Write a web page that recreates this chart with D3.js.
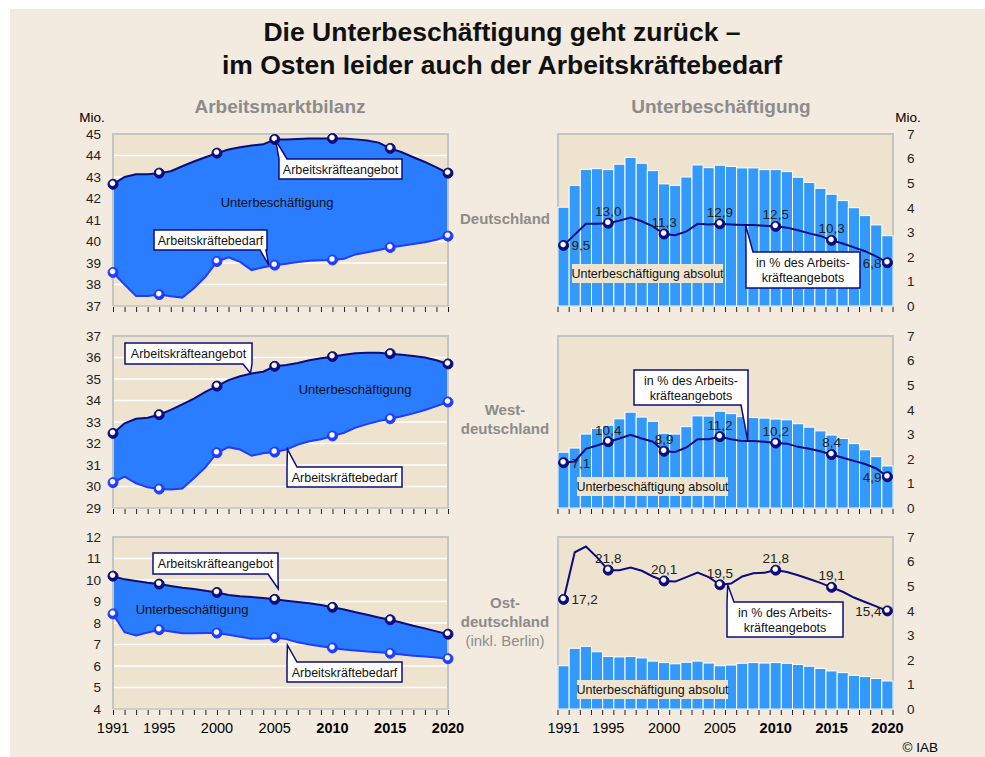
<!DOCTYPE html>
<html>
<head>
<meta charset="utf-8">
<script src="https://cdn.jsdelivr.net/npm/d3@7"></script>
<style>
body { margin: 0; background: #fff; }
svg { display: block; font-family: "Liberation Sans", Arial, sans-serif; }
</style>
</head>
<body>
<svg id="chart" width="985" height="757"></svg>
<script>
// ---- data (Mio. / %) ----
var years = d3.range(1991, 2021);
var markYears = [1991, 1995, 2000, 2005, 2010, 2015, 2020];
var boldYears = [2010, 2015, 2020];
var regionNames = [["Deutschland"], ["West-", "deutschland"], ["Ost-", "deutschland", "(inkl. Berlin)"]];

var angebotD = [42.66, 43.0, 43.13, 43.13, 43.18, 43.27, 43.5, 43.72, 43.92, 44.11, 44.28, 44.38, 44.47, 44.52, 44.75,
    44.75, 44.77, 44.79, 44.79, 44.79, 44.79, 44.75, 44.7, 44.6, 44.33, 44.15, 43.92, 43.7, 43.45, 43.18];
var bedarfD = [38.56, 38.0, 37.47, 37.46, 37.53, 37.45, 37.39, 37.83, 38.36, 39.07, 39.26, 39.05, 38.67, 38.8, 38.9,
    38.97, 39.05, 39.1, 39.13, 39.14, 39.2, 39.4, 39.5, 39.6, 39.72, 39.8, 39.88, 39.97, 40.08, 40.25];
var angebotW = [32.47, 32.94, 33.15, 33.2, 33.34, 33.56, 33.82, 34.09, 34.4, 34.67, 34.95, 35.13, 35.26, 35.34, 35.59,
    35.65, 35.74, 35.87, 35.97, 36.04, 36.13, 36.2, 36.22, 36.22, 36.18, 36.13, 36.07, 36.0, 35.87, 35.7];
var bedarfW = [30.18, 30.46, 30.15, 29.96, 29.88, 29.86, 29.91, 30.38, 30.89, 31.57, 31.83, 31.72, 31.43, 31.55, 31.6,
    31.72, 31.95, 32.1, 32.2, 32.35, 32.5, 32.74, 32.9, 33.04, 33.15, 33.27, 33.4, 33.56, 33.74, 33.93];
var angebotO = [10.18, 10.03, 9.95, 9.87, 9.81, 9.72, 9.64, 9.58, 9.5, 9.42, 9.3, 9.24, 9.21, 9.16, 9.1,
    9.04, 8.98, 8.92, 8.84, 8.73, 8.63, 8.5, 8.38, 8.26, 8.15, 8.01, 7.87, 7.75, 7.61, 7.48];
var bedarfO = [8.42, 7.57, 7.42, 7.56, 7.69, 7.6, 7.52, 7.52, 7.53, 7.53, 7.45, 7.36, 7.27, 7.28, 7.33,
    7.25, 7.1, 7.0, 6.92, 6.84, 6.77, 6.72, 6.67, 6.64, 6.59, 6.53, 6.48, 6.44, 6.39, 6.34];

var absolutD = [4.02, 4.91, 5.56, 5.59, 5.55, 5.77, 6.05, 5.81, 5.51, 4.97, 4.91, 5.25, 5.74, 5.63, 5.73,
    5.68, 5.62, 5.62, 5.55, 5.55, 5.47, 5.24, 5.03, 4.79, 4.55, 4.29, 4.0, 3.68, 3.3, 2.86];
var absolutW = [2.27, 2.44, 3.01, 3.24, 3.37, 3.63, 3.9, 3.7, 3.53, 3.04, 3.01, 3.31, 3.75, 3.74, 3.94,
    3.84, 3.72, 3.68, 3.66, 3.62, 3.59, 3.43, 3.29, 3.14, 2.97, 2.83, 2.62, 2.37, 2.09, 1.71];
var absolutO = [1.76, 2.47, 2.55, 2.33, 2.14, 2.12, 2.14, 2.08, 1.95, 1.89, 1.84, 1.9, 1.95, 1.87, 1.76,
    1.79, 1.86, 1.89, 1.87, 1.89, 1.86, 1.81, 1.74, 1.65, 1.55, 1.48, 1.37, 1.32, 1.24, 1.14];

var quoteD = [9.5, 11.2, 12.9, 12.9, 13.0, 13.4, 13.9, 13.3, 12.5, 11.3, 11.1, 11.7, 12.9, 12.8, 12.9,
    12.8, 12.7, 12.7, 12.6, 12.5, 12.3, 11.9, 11.4, 11.0, 10.3, 9.8, 9.2, 8.6, 7.8, 6.8];
var quoteW = [7.1, 7.3, 9.3, 9.8, 10.4, 10.9, 11.5, 10.9, 10.4, 8.9, 8.8, 9.5, 10.8, 10.8, 11.2,
    10.8, 10.5, 10.5, 10.4, 10.2, 10.1, 9.6, 9.3, 8.9, 8.4, 7.9, 7.4, 6.9, 6.2, 4.9];
var quoteO = [17.2, 24.6, 25.5, 23.8, 21.8, 21.8, 22.2, 21.7, 20.8, 20.1, 20.0, 20.7, 21.4, 20.7, 19.5,
    19.7, 20.8, 21.3, 21.4, 21.8, 21.5, 21.0, 20.4, 19.8, 19.1, 18.4, 17.5, 16.8, 16.1, 15.4];

var leftDomains = [[37, 45], [29, 37], [4, 12]];
var rightDomain = [0, 7];
var quoteDomain = [0, 27];   // hidden secondary axis for the % line

// ---- layout ----
var svg = d3.select("#chart");
var rowTop = [134, 336, 537], rowH = 172;
var L = { x0: 113, x1: 448 }, R = { x0: 558, x1: 893 };

var navy = "#0c0c7c", blue = "#1f3cff", areaFill = "#2a7dff", barFill = "#3399fb";
var plotBg = "#ede3cf", grey = "#8c8c8c", frame = "#c4c4c4";

svg.append("rect").attr("x", 10).attr("y", 9).attr("width", 975).attr("height", 748).attr("fill", "#f3ebdf");

// marker gradients (little 3D balls)
var defs = svg.append("defs");
[["ballNavy", navy], ["ballBlue", blue]].forEach(function (b) {
    var g = defs.append("radialGradient").attr("id", b[0]).attr("cx", "45%").attr("cy", "40%").attr("r", "55%");
    g.append("stop").attr("offset", "0%").attr("stop-color", "#fff");
    g.append("stop").attr("offset", "38%").attr("stop-color", "#fff");
    g.append("stop").attr("offset", "60%").attr("stop-color", b[1]);
    g.append("stop").attr("offset", "100%").attr("stop-color", b[1]);
});

// titles
svg.append("text").attr("x", 502).attr("y", 41).attr("text-anchor", "middle")
    .attr("font-size", 26.5).attr("font-weight", "bold").attr("fill", "#111")
    .text("Die Unterbeschäftigung geht zurück –");
svg.append("text").attr("x", 502).attr("y", 74).attr("text-anchor", "middle")
    .attr("font-size", 26.5).attr("font-weight", "bold").attr("fill", "#111")
    .text("im Osten leider auch der Arbeitskräftebedarf");
svg.append("text").attr("x", 280).attr("y", 113).attr("text-anchor", "middle")
    .attr("font-size", 19).attr("font-weight", "bold").attr("fill", grey).text("Arbeitsmarktbilanz");
svg.append("text").attr("x", 721).attr("y", 113).attr("text-anchor", "middle")
    .attr("font-size", 19).attr("font-weight", "bold").attr("fill", grey).text("Unterbeschäftigung");
svg.append("text").attr("x", 92).attr("y", 122).attr("text-anchor", "middle").attr("font-size", 13.5).text("Mio.");
svg.append("text").attr("x", 908).attr("y", 122).attr("text-anchor", "middle").attr("font-size", 13.5).text("Mio.");
svg.append("text").attr("x", 938).attr("y", 752).attr("text-anchor", "end").attr("font-size", 13.5).text("© IAB");

// callout box with a wedge pointing at tip
function callout(g, bx, by, bw, bh, edge, a, b, tip, lines) {
    var p;
    if (edge == "top") {
        p = "M" + bx + "," + by + "L" + a + "," + by + "L" + tip[0] + "," + tip[1] + "L" + b + "," + by +
            "L" + (bx + bw) + "," + by + "L" + (bx + bw) + "," + (by + bh) + "L" + bx + "," + (by + bh) + "Z";
    } else {
        p = "M" + bx + "," + by + "L" + (bx + bw) + "," + by + "L" + (bx + bw) + "," + (by + bh) +
            "L" + b + "," + (by + bh) + "L" + tip[0] + "," + tip[1] + "L" + a + "," + (by + bh) +
            "L" + bx + "," + (by + bh) + "Z";
    }
    g.append("path").attr("d", p).attr("fill", "#fff").attr("stroke", navy).attr("stroke-width", 1.5);
    var t = g.append("text").attr("text-anchor", "middle").attr("font-size", 12.5).attr("fill", "#111");
    lines.forEach(function (s, i) {
        t.append("tspan").attr("x", bx + bw / 2)
            .attr("y", by + bh / 2 + 4.5 + (i - (lines.length - 1) / 2) * 15).text(s);
    });
}

var leftSeries = [[angebotD, bedarfD], [angebotW, bedarfW], [angebotO, bedarfO]];
var rightSeries = [[absolutD, quoteD], [absolutW, quoteW], [absolutO, quoteO]];
var areaLabelPos = [[277, 207], [355, 394], [192, 614]];
var absolutBox = [[572, 264], [577, 477], [577, 680]];

var x = d3.scaleLinear().domain([1991, 2020]).range([L.x0, L.x1]);
var xb = d3.scaleBand().domain(years).range([R.x0, R.x1]).padding(0);

rowTop.forEach(function (top, r) {
    var bottom = top + rowH;
    var y = d3.scaleLinear().domain(leftDomains[r]).range([bottom, top]);
    var sup = leftSeries[r][0], dem = leftSeries[r][1];
    var g = svg.append("g");

    // --- left: Arbeitsmarktbilanz ---
    g.append("rect").attr("x", L.x0).attr("y", top).attr("width", L.x1 - L.x0).attr("height", rowH).attr("fill", plotBg);
    g.selectAll(".grid").data(y.ticks(8).slice(1, -1)).join("line")
        .attr("x1", L.x0).attr("x2", L.x1).attr("y1", y).attr("y2", y)
        .attr("stroke", "#fff").attr("stroke-width", 1.5);

    var area = d3.area().x(function (d, i) { return x(years[i]); })
        .y0(function (d, i) { return y(dem[i]); }).y1(function (d, i) { return y(sup[i]); });
    g.append("path").attr("d", area(sup)).attr("fill", areaFill);
    var line = d3.line().x(function (d, i) { return x(years[i]); }).y(function (d) { return y(d); });
    g.append("path").attr("d", line(sup)).attr("fill", "none").attr("stroke", navy).attr("stroke-width", 2);
    g.append("path").attr("d", line(dem)).attr("fill", "none").attr("stroke", blue).attr("stroke-width", 2);

    // frame
    g.append("path").attr("d", "M" + L.x0 + "," + bottom + "V" + top + "H" + L.x1 + "V" + bottom)
        .attr("fill", "none").attr("stroke", frame).attr("stroke-width", 2);
    g.append("line").attr("x1", L.x0).attr("x2", L.x1).attr("y1", bottom).attr("y2", bottom)
        .attr("stroke", frame).attr("stroke-width", 1.5);

    var yAxis = d3.axisLeft(y).ticks(8).tickSize(0).tickPadding(12).tickFormat(d3.format("d"));
    g.append("g").attr("transform", "translate(" + L.x0 + ",0)").call(yAxis)
        .call(function (a) { a.select(".domain").remove(); })
        .selectAll("text").attr("font-size", 13.5).attr("fill", "#222").attr("font-family", null);

    var xAxis = d3.axisBottom(x).tickValues(years).tickSize(5).tickFormat("");
    var ax = g.append("g").attr("transform", "translate(0," + (bottom + 1) + ")").call(xAxis);
    ax.select(".domain").remove();
    ax.selectAll("line").attr("stroke", "#222");

    // markers
    [[sup, "ballNavy", navy], [dem, "ballBlue", blue]].forEach(function (s) {
        g.selectAll(null).data(markYears).join("circle")
            .attr("cx", function (d) { return x(d); })
            .attr("cy", function (d) { return y(s[0][years.indexOf(d)]); })
            .attr("r", 5).attr("fill", "url(#" + s[1] + ")").attr("stroke", s[2]).attr("stroke-width", 1);
    });

    g.append("text").attr("x", areaLabelPos[r][0]).attr("y", areaLabelPos[r][1]).attr("text-anchor", "middle")
        .attr("font-size", 13).attr("fill", "#111").text("Unterbeschäftigung");

    // callouts on the left
    function at(arr, yr) { return [x(yr), y(arr[years.indexOf(yr)])]; }
    if (r == 0) {
        var t1 = at(sup, 2005); t1 = [t1[0] + 1, t1[1] + 1];
        callout(g, 279, 159, 123, 20, "top", 279, 287, t1, ["Arbeitskräfteangebot"]);
        var t2 = at(dem, 2005); t2 = [t2[0] - 6, t2[1]];
        callout(g, 154, 230, 113, 20, "bottom", 260, 266, t2, ["Arbeitskräftebedarf"]);
    } else if (r == 1) {
        var t3 = [x(2002.9), y(35.27)];
        callout(g, 125, 343, 127, 21, "bottom", 243, 252, t3, ["Arbeitskräfteangebot"]);
        var t4 = [x(2006.1), y(31.74)];
        callout(g, 287, 467, 115, 20, "top", 287, 297, t4, ["Arbeitskräftebedarf"]);
    } else {
        var t5 = [x(2005.3), y(9.08) - 11];
        callout(g, 153, 553, 125, 21, "bottom", 268, 278, t5, ["Arbeitskräfteangebot"]);
        var t6 = [x(2006.1), y(7.25) + 6];
        callout(g, 287, 662, 115, 20, "top", 287, 297, t6, ["Arbeitskräftebedarf"]);
    }

    // region label in the middle
    var names = regionNames[r];
    var midY = [219, 410, 603][r];
    names.forEach(function (n, i) {
        g.append("text").attr("x", 505).attr("y", midY + 5 + i * 19).attr("text-anchor", "middle")
            .attr("font-size", 15).attr("font-weight", i == 2 ? "normal" : "bold").attr("fill", grey).text(n);
    });

    // --- right: Unterbeschäftigung ---
    var yr = d3.scaleLinear().domain(rightDomain).range([bottom, top]);
    var yq = d3.scaleLinear().domain(quoteDomain).range([bottom, top]);
    var abs = rightSeries[r][0], quote = rightSeries[r][1];
    g.append("rect").attr("x", R.x0).attr("y", top).attr("width", R.x1 - R.x0).attr("height", rowH)
        .attr("fill", plotBg).attr("stroke", frame).attr("stroke-width", 2);
    g.selectAll(".bar").data(abs).join("rect")
        .attr("x", function (d, i) { return xb(years[i]); })
        .attr("y", function (d) { return yr(d); })
        .attr("width", xb.bandwidth())
        .attr("height", function (d) { return bottom - yr(d); })
        .attr("fill", barFill).attr("stroke", "#fff").attr("stroke-width", 1);

    var ab = absolutBox[r];
    g.append("rect").attr("x", ab[0]).attr("y", ab[1]).attr("width", 151).attr("height", 19).attr("fill", plotBg);
    g.append("text").attr("x", ab[0] + 75.5).attr("y", ab[1] + 14).attr("text-anchor", "middle")
        .attr("font-size", 12.5).attr("fill", "#111").text("Unterbeschäftigung absolut");

    var cx = function (yrv) { return xb(yrv) + xb.bandwidth() / 2; };
    var qline = d3.line().x(function (d, i) { return cx(years[i]); }).y(function (d) { return yq(d); });
    g.append("path").attr("d", qline(quote)).attr("fill", "none").attr("stroke", navy).attr("stroke-width", 2);

    // callout for % line
    var qt = function (yrv, v) { return [xb(1991) + (yrv - 1991 + 0.5) * xb.bandwidth(), yq(v)]; };
    if (r == 0) callout(g, 746, 252, 114, 36, "top", 746, 753, qt(2007.3, 12.7), ["in % des Arbeits-", "kräfteangebots"]);
    if (r == 1) callout(g, 634, 370, 114, 35, "bottom", 741, 748, qt(2007.5, 10.5), ["in % des Arbeits-", "kräfteangebots"]);
    if (r == 2) callout(g, 727, 602, 116, 35, "top", 727, 734, qt(2005.7, 19.5), ["in % des Arbeits-", "kräfteangebots"]);

    g.selectAll(null).data(markYears).join("circle")
        .attr("cx", cx)
        .attr("cy", function (d) { return yq(quote[years.indexOf(d)]); })
        .attr("r", 5).attr("fill", "url(#ballNavy)").attr("stroke", navy).attr("stroke-width", 1);

    var fmt = function (v) { return d3.format(".1f")(v).replace(".", ","); };
    g.selectAll(null).data(markYears).join("text")
        .attr("x", function (d, i) { return i == 0 ? cx(d) + 8 : (i == 6 ? cx(d) - 6 : cx(d)); })
        .attr("y", function (d, i) {
            var yy = yq(quote[years.indexOf(d)]);
            return (i == 0 || i == 6) ? yy + 5 : yy - 7;
        })
        .attr("text-anchor", function (d, i) { return i == 0 ? "start" : (i == 6 ? "end" : "middle"); })
        .attr("font-size", 13.5).attr("fill", "#222")
        .text(function (d) { return fmt(quote[years.indexOf(d)]); });

    var yAxisR = d3.axisRight(yr).ticks(7).tickSize(0).tickPadding(14).tickFormat(d3.format("d"));
    g.append("g").attr("transform", "translate(" + R.x1 + ",0)").call(yAxisR)
        .call(function (a) { a.select(".domain").remove(); })
        .selectAll("text").attr("font-size", 13.5).attr("fill", "#222").attr("font-family", null);

    var bounds = years.map(function (d) { return xb(d); }).concat([R.x1]);
    g.selectAll(null).data(bounds).join("line")
        .attr("x1", function (d) { return d; }).attr("x2", function (d) { return d; })
        .attr("y1", bottom + 1).attr("y2", bottom + 6).attr("stroke", "#222");

    // year labels in the bottom row
    if (r == 2) {
        g.selectAll(null).data(markYears).join("text")
            .attr("x", function (d) { return x(d); }).attr("y", bottom + 24)
            .attr("text-anchor", "middle").attr("font-size", 14.5)
            .attr("font-weight", function (d) { return boldYears.indexOf(d) >= 0 ? "bold" : "normal"; })
            .text(function (d) { return d; });
        g.selectAll(null).data(markYears).join("text")
            .attr("x", function (d) { return cx(d); }).attr("y", bottom + 24)
            .attr("text-anchor", "middle").attr("font-size", 14.5)
            .attr("font-weight", function (d) { return boldYears.indexOf(d) >= 0 ? "bold" : "normal"; })
            .text(function (d) { return d; });
    }
});
</script>
</body>
</html>
